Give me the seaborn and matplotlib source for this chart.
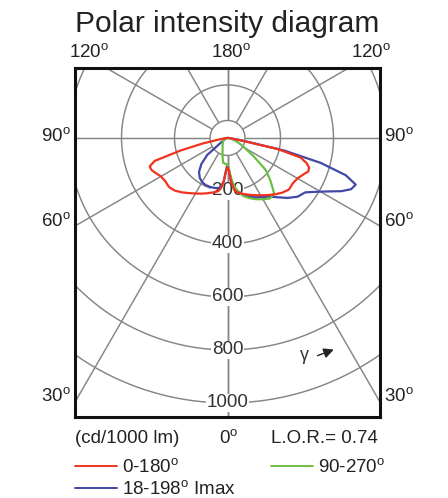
import numpy as np
import pandas as pd
import matplotlib
matplotlib.use("Agg")
import matplotlib.pyplot as plt
from matplotlib.lines import Line2D
import seaborn as sns

# Gamma angles (degrees from nadir) shared by every half-plane
gamma = [0, 2.5, 5, 7.5, 10, 15, 20, 25, 30, 35, 40, 45, 50, 55, 60, 65,
         67.5, 70, 72.5, 75, 77.5, 80, 85, 90]

# Luminous intensity, cd/1000 lm
c0 = [110, 125, 170, 198, 208, 218, 228, 238, 250, 263, 278, 292, 303, 300,
      305, 320, 330, 328, 312, 285, 195, 45, 8, 0]
c180 = [110, 125, 165, 192, 204, 213, 222, 232, 242, 254, 268, 281, 288, 286,
        290, 305, 312, 312, 288, 185, 95, 30, 6, 0]
c18 = [100, 120, 170, 195, 205, 220, 235, 247, 258, 270, 292, 320, 345, 358,
       405, 475, 505, 515, 468, 365, 220, 60, 10, 0]
c198 = [100, 120, 165, 185, 192, 195, 196, 196, 192, 183, 167, 140, 100, 30,
        14, 10, 8, 7, 6, 5, 4, 3, 1, 0]
c90 = [100, 115, 150, 180, 198, 226, 242, 255, 267, 279, 274, 230, 189, 120,
       75, 50, 40, 32, 25, 20, 15, 10, 4, 0]
c270 = [100, 100, 98, 96, 95, 72, 55, 44, 37, 32, 28, 25, 22, 20,
        18, 15, 14, 12, 10, 9, 7, 6, 3, 0]

DEG = r"$^{\mathrm{o}}$"
planes = ["0-180", "90-270", "18-198"]
plane_names = {"0-180": "0-180" + DEG, "90-270": "90-270" + DEG,
               "18-198": "18-198" + DEG + " Imax"}
plane_halves = {"0-180": (c0, c180), "90-270": (c90, c270),
                "18-198": (c18, c198)}
colors = {"0-180": "#f2321e", "90-270": "#6cbf45", "18-198": "#4247a8"}

ring_values = [200, 400, 600, 800, 1000]
spoke_angles = [0, 30, 60, 90, 120, 150, 180]
side_labels = ["90", "60", "30"]
top_labels = ["120", "180", "120"]

# Build one closed outline per plane: C(180+) half on the left, C half on the right
rows = []
g = np.radians(gamma)
for name in planes:
    right, left = plane_halves[name]
    for gi, ii in zip(g[::-1], left[::-1]):
        rows.append((name, -ii * np.sin(gi), -ii * np.cos(gi)))
    for gi, ii in zip(g, right):
        rows.append((name, ii * np.sin(gi), -ii * np.cos(gi)))
df = pd.DataFrame(rows, columns=["plane", "x", "y"])

sns.set_style("white")
plt.rcParams["font.family"] = ["Liberation Sans", "DejaVu Sans"]
plt.rcParams["mathtext.fontset"] = "custom"
plt.rcParams["mathtext.rm"] = "Liberation Sans"
plt.rcParams["mathtext.it"] = "Liberation Sans:italic"

W, H = 448, 498
fig = plt.figure(figsize=(W / 100, H / 100), dpi=100)


def fx(x):
    return x / W


def fy(y):
    return 1 - y / H


ax = fig.add_axes([fx(75), fy(417), 305 / W, 349 / H])
ax.set_xlim(-575.5, 575.5)
ax.set_ylim(-1053, 264)

grid_kw = dict(color="#858585", lw=1.05, zorder=1, solid_capstyle="butt")
hub = 66
t = np.linspace(0, 2 * np.pi, 400)
for r in [hub] + ring_values:
    ax.plot(r * np.cos(t), r * np.sin(t), **grid_kw)
for a in spoke_angles:
    ar = np.radians(a)
    for s in (-1, 1):
        ax.plot([s * hub * np.sin(ar), s * 3000 * np.sin(ar)],
                [-hub * np.cos(ar), -3000 * np.cos(ar)], **grid_kw)

for r in ring_values:
    ax.text(0, -r, str(r), ha="center", va="center", fontsize=13.5,
            color="#333333", zorder=2,
            bbox=dict(boxstyle="square,pad=0.05", fc="white", ec="none"))

sns.lineplot(data=df, x="x", y="y", hue="plane",
             hue_order=["18-198", "90-270", "0-180"],
             palette=colors, sort=False, estimator=None, legend=False,
             lw=1.6, ax=ax, zorder=3)

ax.set_xticks([])
ax.set_yticks([])
ax.set_xlabel("")
ax.set_ylabel("")
for sp in ax.spines.values():
    sp.set_visible(True)
    sp.set_color("#111111")
    sp.set_linewidth(2.2)

# direction of gamma
ax.text(292, -822, "γ", ha="center", va="center", fontsize=13, color="#333333")
ax.annotate("", xy=(411, -795), xytext=(330, -825),
            arrowprops=dict(arrowstyle="-|>,head_length=0.6,head_width=0.3",
                            color="#222222", lw=1.0))

txt = dict(fontsize=13.5, color="#222222", va="baseline")
fig.text(fx(227.5), fy(32), "Polar intensity diagram", ha="center",
         fontsize=21.5, color="#222222", va="baseline")
for x, s in zip([89, 231, 371], top_labels):
    fig.text(fx(x), fy(57), s + DEG, ha="center", **txt)
for y, s in zip([141, 226, 401], side_labels):
    fig.text(fx(71), fy(y), s + DEG, ha="right", **txt)
    fig.text(fx(384), fy(y), s + DEG, ha="left", **txt)

fig.text(fx(75), fy(443), "(cd/1000 lm)", ha="left", **txt)
fig.text(fx(229), fy(443), "0" + DEG, ha="center", **txt)
fig.text(fx(378), fy(443), "L.O.R.= 0.74", ha="right", **txt)

legend_items = [("0-180", 75, 466), ("90-270", 271, 466),
                ("18-198", 75, 488)]
for name, x0, y0 in legend_items:
    fig.add_artist(Line2D([fx(x0), fx(x0 + 42)], [fy(y0), fy(y0)],
                          color=colors[name], lw=1.4))
    fig.text(fx(x0 + 47), fy(y0 + 6), plane_names[name], ha="left", **txt)

fig.savefig("out.png", dpi=100)
